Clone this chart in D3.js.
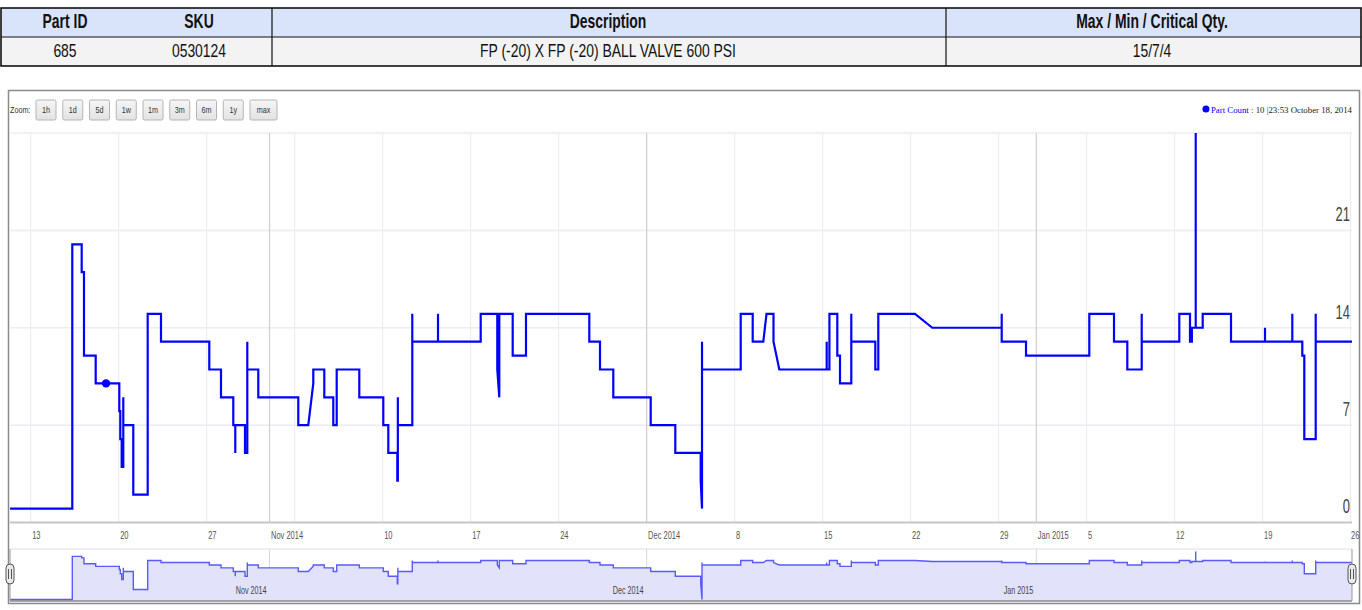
<!DOCTYPE html>
<html><head><meta charset="utf-8">
<script src="https://cdn.jsdelivr.net/npm/d3@7/dist/d3.min.js"></script>
<style>
body{margin:0;background:#fff;}
svg{display:block;}
</style></head><body>
<svg id="c" width="1362" height="610"></svg>
<script>
// ---------- DATA ----------
const tableHeaders = ["Part ID", "SKU", "Description", "Max / Min / Critical Qty."];
const tableRow = ["685", "0530124", "FP (-20) X FP (-20) BALL VALVE 600 PSI", "15/7/4"];
const zoomButtons = ["1h", "1d", "5d", "1w", "1m", "3m", "6m", "1y", "max"];
const yTickValues = [0, 7, 14, 21, 28];
const yTickLabels = ["0", "7", "14", "21", ""];
const seriesName = "Part Count";
const hoverTime = "2014-10-18 23:53";
const hoverValue = 10;
const domainStart = "2014-10-11 08:30";
const domainEnd = "2015-01-26 02:45";

// readings: time stamp and part count (steps are repeated time stamps)
const times = [
"2014-10-11 08:30","2014-10-16 07:25","2014-10-16 07:25","2014-10-17 01:22","2014-10-17 01:22",
"2014-10-17 05:46","2014-10-17 05:46","2014-10-18 04:06","2014-10-18 04:06","2014-10-20 01:10",
"2014-10-20 01:10","2014-10-20 03:04","2014-10-20 03:04","2014-10-20 05:44","2014-10-20 05:44",
"2014-10-20 08:48","2014-10-20 08:48","2014-10-20 08:48","2014-10-21 03:53","2014-10-21 03:53",
"2014-10-22 07:23","2014-10-22 07:23","2014-10-23 08:47","2014-10-23 08:47","2014-10-27 05:00",
"2014-10-27 05:00","2014-10-28 03:20","2014-10-28 03:20","2014-10-29 02:50","2014-10-29 02:50",
"2014-10-29 06:38","2014-10-29 06:38","2014-10-29 06:38","2014-10-30 01:10","2014-10-30 01:10",
"2014-10-30 05:34","2014-10-30 05:34","2014-10-30 05:34","2014-10-31 02:34","2014-10-31 02:34",
"2014-11-03 06:56","2014-11-03 06:56","2014-11-04 02:01","2014-11-04 11:34","2014-11-04 11:34",
"2014-11-05 08:34","2014-11-05 08:34","2014-11-06 01:45","2014-11-06 01:45","2014-11-06 08:15",
"2014-11-06 08:15","2014-11-08 03:24","2014-11-08 03:24","2014-11-10 01:13","2014-11-10 01:13",
"2014-11-10 10:47","2014-11-10 10:47","2014-11-11 03:58","2014-11-11 03:58","2014-11-11 05:00",
"2014-11-11 05:00","2014-11-11 05:00","2014-11-12 08:35","2014-11-12 08:35","2014-11-12 08:35",
"2014-11-14 09:40","2014-11-14 09:40","2014-11-14 09:40","2014-11-17 19:12","2014-11-17 19:12",
"2014-11-19 02:53","2014-11-19 02:53","2014-11-19 06:42","2014-11-19 06:42","2014-11-20 08:17",
"2014-11-20 08:17","2014-11-21 09:40","2014-11-21 09:40","2014-11-26 10:32","2014-11-26 10:32",
"2014-11-27 06:58","2014-11-27 06:58","2014-11-28 08:21","2014-11-28 08:21","2014-12-01 07:47",
"2014-12-01 07:47","2014-12-03 06:45","2014-12-03 06:45","2014-12-05 07:15","2014-12-05 07:15",
"2014-12-05 09:44","2014-12-05 09:44","2014-12-05 09:44","2014-12-08 11:37","2014-12-08 11:37",
"2014-12-09 10:31","2014-12-09 10:31","2014-12-10 06:46","2014-12-10 12:52","2014-12-11 02:14",
"2014-12-11 02:14","2014-12-11 13:18","2014-12-15 07:48","2014-12-15 07:48","2014-12-15 07:48",
"2014-12-15 13:00","2014-12-15 13:00","2014-12-16 04:02","2014-12-16 04:02","2014-12-16 09:11",
"2014-12-16 09:11","2014-12-17 06:46","2014-12-17 06:46","2014-12-17 06:46","2014-12-19 04:36",
"2014-12-19 04:36","2014-12-19 10:19","2014-12-19 10:19","2014-12-22 08:24","2014-12-23 17:25",
"2014-12-29 05:57","2014-12-29 05:57","2014-12-29 05:57","2014-12-31 04:21","2014-12-31 04:21",
"2015-01-05 05:11","2015-01-05 05:11","2015-01-07 04:21","2015-01-07 04:21","2015-01-08 05:46",
"2015-01-08 05:46","2015-01-09 09:14","2015-01-09 09:14","2015-01-09 09:14","2015-01-12 09:01",
"2015-01-12 09:01","2015-01-13 05:27","2015-01-13 05:27","2015-01-13 09:00","2015-01-13 09:00",
"2015-01-13 16:21","2015-01-13 16:21","2015-01-13 16:21","2015-01-14 05:42","2015-01-14 05:42",
"2015-01-16 11:44","2015-01-16 11:44","2015-01-19 04:39","2015-01-19 04:39","2015-01-19 04:39",
"2015-01-21 08:47","2015-01-21 08:47","2015-01-21 08:47","2015-01-22 03:52","2015-01-22 03:52",
"2015-01-22 07:41","2015-01-22 07:41","2015-01-23 05:27","2015-01-23 05:27","2015-01-23 05:27",
"2015-01-26 02:45"
];
const counts = [
1,1,20,20,18,
18,12,12,10,10,
8,8,6,6,4,
4,9,7,7,2,
2,15,15,13,13,
11,11,9,9,7,
7,5,7,7,5,
5,13,11,11,9,
9,7,7,10,11,
11,9,9,7,7,
11,11,9,9,7,
7,5,5,3,3,
9,7,7,15,13,
13,15,13,13,15,
15,11,9,15,15,
12,12,15,15,13,
13,11,11,9,9,
7,7,5,5,3,
1,13,11,11,15,
15,13,13,15,15,
13,11,11,13,11,
11,15,15,12,12,
10,10,15,13,13,
11,11,15,15,14,
14,15,13,13,12,
12,15,15,13,13,
11,11,15,13,13,
15,15,13,13,14,
14,28,14,14,15,
15,13,13,14,13,
13,15,13,13,12,
12,6,6,15,13,
13
];

// ---------- CHART ----------
const parse = d3.timeParse("%Y-%m-%d %H:%M");
const data = times.map((t, i) => ({t: parse(t), v: counts[i]}));
const svg = d3.select("#c");
const SANS = "'Liberation Sans',Arial,sans-serif";

// condensed look: scale text about its anchor point
function squeeze(sel, sx, sy) {
  sel.attr("transform", function () {
    const tx = +this.getAttribute("x"), ty = +this.getAttribute("y");
    return `translate(${tx},${ty}) scale(${sx},${sy}) translate(${-tx},${-ty})`;
  });
}

// ---- table ----
const tb = svg.append("g");
const tTop = 8, tMid = 37, tBot = 66, tL = 1, tR = 1361;
tb.append("rect").attr("x", tL).attr("y", tTop).attr("width", tR - tL).attr("height", tMid - tTop).attr("fill", "#d9e4fa");
tb.append("rect").attr("x", tL).attr("y", tMid).attr("width", tR - tL).attr("height", tBot - tMid).attr("fill", "#f3f3f3");
tb.append("rect").attr("x", tL).attr("y", tTop).attr("width", tR - tL).attr("height", tBot - tTop)
  .attr("fill", "none").attr("stroke", "#111").attr("stroke-width", 1.6);
tb.append("line").attr("x1", tL).attr("x2", tR).attr("y1", tMid).attr("y2", tMid).attr("stroke", "#111").attr("stroke-width", 1.2);
[272, 946].forEach(x => tb.append("line").attr("x1", x).attr("x2", x).attr("y1", tTop).attr("y2", tBot).attr("stroke", "#111").attr("stroke-width", 1.2));
const colCenters = [65, 199, 608, 1152];
tb.selectAll("text.h").data(tableHeaders).join("text").attr("class", "h")
  .attr("x", (d, i) => colCenters[i]).attr("y", 28).attr("text-anchor", "middle")
  .attr("font-family", SANS).attr("font-weight", "bold").attr("font-size", 17).attr("fill", "#111")
  .text(d => d).call(squeeze, 0.82, 1.2);
tb.selectAll("text.r").data(tableRow).join("text").attr("class", "r")
  .attr("x", (d, i) => colCenters[i]).attr("y", 57.5).attr("text-anchor", "middle")
  .attr("font-family", SANS).attr("font-size", 16).attr("fill", "#111")
  .text(d => d).call(squeeze, 0.87, 1.15);

// ---- chart container ----
svg.append("rect").attr("x", 8.5).attr("y", 90.5).attr("width", 1351).attr("height", 513)
  .attr("fill", "#fff").attr("stroke", "#8a8a8a").attr("stroke-width", 1.5);

const plotL = 10, plotR = 1352, plotT = 133, plotB = 522.5;
const x = d3.scaleTime().domain([parse(domainStart), parse(domainEnd)]).range([plotL, plotR]);
const y = d3.scaleLinear().domain([0, 28]).range([plotB, plotT]);

// grid
const mondays = d3.timeMonday.range(x.domain()[0], d3.timeDay.offset(x.domain()[1], 1));
const months = d3.timeMonth.range(d3.timeDay.offset(x.domain()[0], 1), x.domain()[1]);
const grid = svg.append("g");
grid.selectAll("line.h").data(yTickValues).join("line")
  .attr("x1", plotL).attr("x2", plotR).attr("y1", d => y(d)).attr("y2", d => y(d))
  .attr("stroke", "#ececf4").attr("stroke-width", 1.5);
grid.selectAll("line.v").data(mondays).join("line")
  .attr("x1", d => x(d)).attr("x2", d => x(d)).attr("y1", plotT).attr("y2", plotB)
  .attr("stroke", "#ececf0").attr("stroke-width", 1);
grid.selectAll("line.m").data(months).join("line")
  .attr("x1", d => x(d)).attr("x2", d => x(d)).attr("y1", plotT).attr("y2", plotB)
  .attr("stroke", "#cfcfcf").attr("stroke-width", 1.2);

// x axis line
svg.append("line").attr("x1", plotL).attr("x2", plotR).attr("y1", plotB).attr("y2", plotB)
  .attr("stroke", "#c8c8c8").attr("stroke-width", 2);

// x tick labels (left aligned at tick)
const fmtDay = d3.timeFormat("%-d"), fmtMonth = d3.timeFormat("%b %Y");
const labelTicks = [];
months.forEach(m => labelTicks.push({d: m, s: fmtMonth(m)}));
mondays.forEach(m => {
  const ms = d3.timeMonth.floor(m);
  if (+ms === +m) return;
  if ((m - ms) / 864e5 < 3) return;
  labelTicks.push({d: m, s: fmtDay(m)});
});
svg.append("g").selectAll("text").data(labelTicks).join("text")
  .attr("x", d => Math.min(x(d.d) + 1.5, 1351)).attr("y", 539.5)
  .attr("font-family", SANS).attr("font-size", 10).attr("fill", "#555")
  .text(d => d.s).call(squeeze, 0.75, 1.1);

// y labels (right side, above grid lines)
svg.append("g").selectAll("text").data(yTickValues).join("text")
  .attr("x", 1350).attr("y", d => y(d) - 9).attr("text-anchor", "end")
  .attr("font-family", SANS).attr("font-size", 18).attr("fill", "#444")
  .text((d, i) => yTickLabels[i]).call(squeeze, 0.72, 1.15);

// series line
const line = d3.line().x(d => x(d.t)).y(d => y(d.v));
svg.append("clipPath").attr("id", "pc").append("rect").attr("x", plotL).attr("y", plotT - 2).attr("width", plotR - plotL).attr("height", plotB - plotT + 4);
svg.append("path").datum(data).attr("d", line).attr("fill", "none")
  .attr("stroke", "#0000ff").attr("stroke-width", 2.2).attr("stroke-linejoin", "miter")
  .attr("clip-path", "url(#pc)");
// hover marker
svg.append("circle").attr("cx", x(parse(hoverTime))).attr("cy", y(hoverValue)).attr("r", 4.2).attr("fill", "#0000ff");

// legend
const lg = svg.append("g");
const lgText = lg.append("text").attr("x", 1352).attr("y", 112.5).attr("text-anchor", "end")
  .attr("font-family", "'Liberation Serif','Times New Roman',serif").attr("font-size", 8.8).attr("fill", "#222");
lgText.append("tspan").attr("fill", "#0000ff").text(seriesName);
lgText.append("tspan").text(" : " + hoverValue + "  |" + d3.timeFormat("%H:%M %B %d, %Y")(parse(hoverTime)));
const lgw = lgText.node().getComputedTextLength();
lg.append("circle").attr("cx", 1352 - lgw - 5).attr("cy", 109).attr("r", 3.5).attr("fill", "#0000ff");

// zoom buttons
const zb = svg.append("g");
zb.append("text").attr("x", 10).attr("y", 113).attr("font-family", SANS).attr("font-size", 9).attr("fill", "#333")
  .text("Zoom:").call(squeeze, 0.8, 1.1);
const grad = svg.append("defs").append("linearGradient").attr("id", "bg").attr("x1", 0).attr("x2", 0).attr("y1", 0).attr("y2", 1);
grad.append("stop").attr("offset", 0).attr("stop-color", "#f6f6f6");
grad.append("stop").attr("offset", 1).attr("stop-color", "#e2e2e2");
const btn = zb.selectAll("g.b").data(zoomButtons).join("g")
  .attr("transform", (d, i) => `translate(${36 + i * 26.75},100)`);
btn.append("rect").attr("width", d => d === "max" ? 27 : 20).attr("height", 20).attr("rx", 1.5)
  .attr("fill", "url(#bg)").attr("stroke", "#b4b4b4").attr("stroke-width", 1);
btn.append("text").attr("x", d => d === "max" ? 13.5 : 10).attr("y", 13).attr("text-anchor", "middle")
  .attr("font-family", SANS).attr("font-size", 9).attr("fill", "#333").text(d => d).call(squeeze, 0.8, 1.1);

// ---- navigator ----
const navT = 549, navB = 601;
const yn = d3.scaleLog().domain([1, 28]).range([599.5, 551.5]);
const nav = svg.append("g");
nav.selectAll("line.m").data(months).join("line")
  .attr("x1", d => x(d)).attr("x2", d => x(d)).attr("y1", navT).attr("y2", navB)
  .attr("stroke", "#d8d8d8").attr("stroke-width", 1);
const area = d3.area().x(d => x(d.t)).y0(navB).y1(d => yn(d.v));
nav.append("path").datum(data).attr("d", area).attr("fill", "#e2e2fb");
nav.append("path").datum(data).attr("d", d3.line().x(d => x(d.t)).y(d => yn(d.v)))
  .attr("fill", "none").attr("stroke", "#5a5aff").attr("stroke-width", 1.4);
nav.selectAll("text").data(months).join("text")
  .attr("x", d => x(d) - 3).attr("y", 594).attr("text-anchor", "end")
  .attr("font-family", SANS).attr("font-size", 10).attr("fill", "#444")
  .text(d => fmtMonth(d)).call(squeeze, 0.72, 1.05);
nav.append("line").attr("x1", plotL).attr("x2", plotR).attr("y1", navT).attr("y2", navT).attr("stroke", "#e0e0e0").attr("stroke-width", 1);
nav.append("line").attr("x1", plotL).attr("x2", plotR).attr("y1", navB).attr("y2", navB).attr("stroke", "#888").attr("stroke-width", 1.5);
[plotL, plotR].forEach(hx => {
  nav.append("line").attr("x1", hx).attr("x2", hx).attr("y1", navT).attr("y2", navB).attr("stroke", "#999").attr("stroke-width", 1);
  const h = nav.append("g").attr("transform", `translate(${hx},574)`);
  h.append("rect").attr("x", -4).attr("y", -10).attr("width", 8).attr("height", 20).attr("rx", 4)
    .attr("fill", "#eaeaea").attr("stroke", "#555").attr("stroke-width", 1);
  [-1.5, 1.5].forEach(dx => h.append("line").attr("x1", dx).attr("x2", dx).attr("y1", -5).attr("y2", 5).attr("stroke", "#555").attr("stroke-width", 1));
});
</script>
</body></html>
